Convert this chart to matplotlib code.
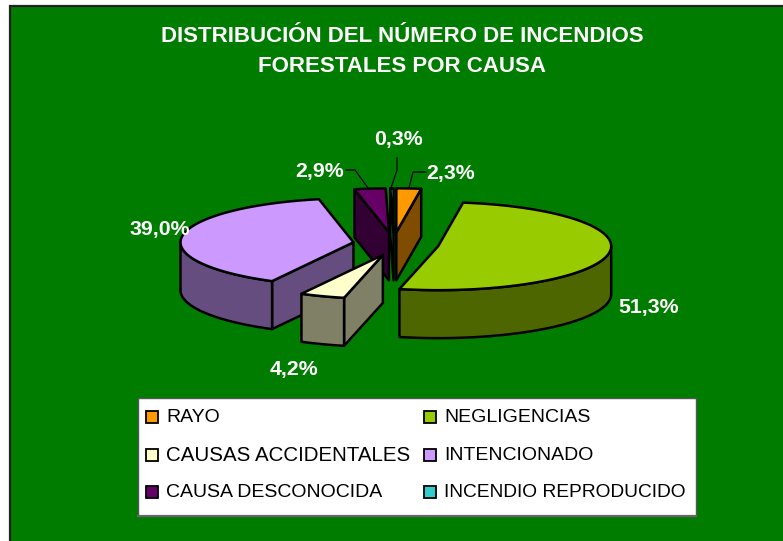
import numpy as np
import matplotlib
matplotlib.use('Agg')
import matplotlib.pyplot as plt
from matplotlib.patches import Polygon, Rectangle

plt.rcParams['font.family'] = ['Liberation Sans', 'DejaVu Sans']

W, H = 783, 541

categories = ['RAYO', 'NEGLIGENCIAS', 'CAUSAS ACCIDENTALES', 'INTENCIONADO',
              'CAUSA DESCONOCIDA', 'INCENDIO REPRODUCIDO']
values = [2.3, 51.3, 4.2, 39.0, 2.9, 0.3]
labels = ['2,3%', '51,3%', '4,2%', '39,0%', '2,9%', '0,3%']
colors = ['#FF9900', '#99CC00', '#FFFFCC', '#CC99FF', '#660066', '#33CCCC']
side_colors = ['#804D00', '#4D6600', '#808066', '#664D80', '#330033', '#1A6666']

BG = '#007D00'
CX, CY = 392, 244     # pie centre before exploding
RX, RY = 173, 44      # flattened radius
DEPTH = 48
EXPLODE = 46
# the original does not explode all slices evenly
nudge_x = [1, 1, 7, 7, 2, 2]

fig = plt.figure(figsize=(W / 100, H / 100), dpi=100, facecolor='white')
ax = fig.add_axes([0, 0, 1, 1])
ax.set_xlim(0, W)
ax.set_ylim(H, 0)
ax.axis('off')

ax.add_patch(Rectangle((10, 6), W, H, fc=BG, ec='#222222', lw=1.6))

title = 'DISTRIBUCIÓN DEL NÚMERO DE INCENDIOS\nFORESTALES POR CAUSA'
ax.text(402, 51.5, title, color='white', fontsize=16, fontweight='bold',
        ha='center', va='center', linespacing=1.55)


def project(theta, cx, cy):
    t = np.radians(theta)
    return cx + RX * np.sin(t), cy - RY * np.cos(t)


def draw_wedge(i, a1, a2):
    mid = (a1 + a2) / 2
    m = np.radians(mid)
    cx = CX + EXPLODE * np.sin(m) + nudge_x[i]
    cy = CY - EXPLODE * (RY / RX) * np.cos(m)
    edge = dict(ec='black', lw=1.8, joinstyle='round')

    # cut faces, only the ones turned towards the viewer
    if 180 <= a1 < 360:
        x, y = project(a1, cx, cy)
        ax.add_patch(Polygon([(cx, cy), (x, y), (x, y + DEPTH), (cx, cy + DEPTH)],
                             fc=side_colors[i], **edge))
    if 0 < a2 <= 180:
        x, y = project(a2, cx, cy)
        ax.add_patch(Polygon([(cx, cy), (x, y), (x, y + DEPTH), (cx, cy + DEPTH)],
                             fc=side_colors[i], **edge))

    # outer wall, front half of the rim
    lo, hi = max(a1, 90), min(a2, 270)
    if lo < hi:
        th = np.linspace(lo, hi, 60)
        x, y = project(th, cx, cy)
        pts = list(zip(x, y)) + list(zip(x[::-1], y[::-1] + DEPTH))
        ax.add_patch(Polygon(pts, fc=side_colors[i], **edge))

    # top face
    th = np.linspace(a1, a2, 80)
    x, y = project(th, cx, cy)
    ax.add_patch(Polygon([(cx, cy)] + list(zip(x, y)), fc=colors[i], **edge))


ends = np.cumsum(values) / np.sum(values) * 360
starts = np.r_[0, ends[:-1]]
for i in [5, 4, 0, 3, 1, 2]:
    draw_wedge(i, starts[i], ends[i])

# data labels
label_pos = [(451, 173), (649, 307), (294, 369), (160, 229), (320, 171), (398, 139)]
for lab, (x, y) in zip(labels, label_pos):
    ax.text(x, y, lab, color='white', fontsize=15.3, fontweight='bold',
            ha='center', va='center')

# leader lines
leaders_x = [[426, 413, 409], [346, 355, 368], [397, 397, 391]]
leaders_y = [[172, 172, 188], [170, 170, 188], [158, 170, 188]]
for lx, ly in zip(leaders_x, leaders_y):
    ax.plot(lx, ly, color='black', lw=0.9)

# legend
ax.add_patch(Rectangle((138, 398), 558, 118, fc='white', ec='#555555', lw=1))
ax.plot([138, 696], [516, 516], color='#666666', lw=1.6)
legend_x = [146, 424]
legend_y = [417, 455, 492]
legend_size = [14, 14, 14.8, 14, 14, 13.8]
for i, cat in enumerate(categories):
    x = legend_x[i % 2]
    y = legend_y[i // 2]
    ax.add_patch(Rectangle((x, y - 6), 12, 12, fc=colors[i], ec='black', lw=1.3))
    ax.text(x + 20, y + 0.5, cat, fontsize=legend_size[i], color='black',
            ha='left', va='center')

fig.savefig('out.png', dpi=100, facecolor='white')
